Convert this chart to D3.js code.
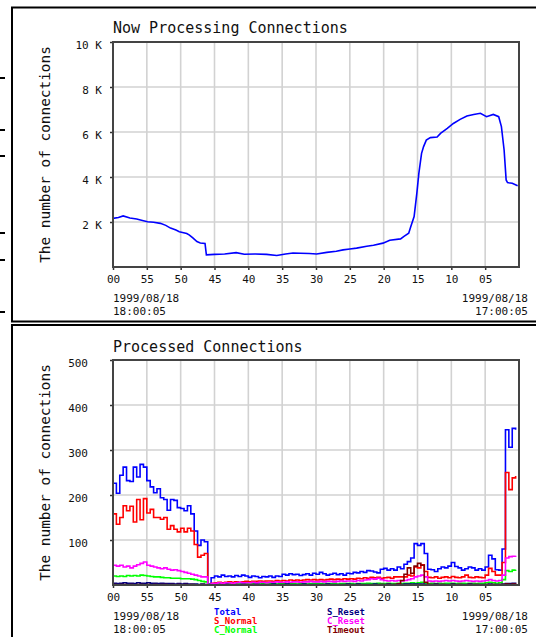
<!DOCTYPE html>
<html>
<head>
<meta charset="utf-8">
<script src="https://cdn.jsdelivr.net/npm/d3@7"></script>
<style>
  body { margin: 0; background: #fff; }
  svg { display: block; }
</style>
</head>
<body>
<svg id="chart" width="536" height="637"></svg>
<script>
// ---- Now processing connections: sample minutes before 18:00:05 and counts ----
const nowMinutes = [0, 0.8, 1.5, 2.5, 3.5, 4.2, 5.1, 6.0, 7.0, 7.8, 8.5, 9.3, 9.8, 10.9, 11.3, 11.8,
  12.4, 12.9, 13.6, 13.8, 15.0, 16.5, 18.2, 19.4, 21.0, 22.7, 24.2, 25.5, 26.6, 27.7, 29.0, 30.1,
  31.6, 33.0, 34.0, 35.0, 36.0, 37.5, 38.5, 39.9, 40.9, 42.5, 43.0, 43.7, 44.0, 44.5, 44.9, 45.2,
  45.6, 45.9, 46.3, 46.9, 47.9, 48.4, 49.4, 50.3, 51.3, 52.3, 53.3, 54.3, 55.2, 56.2, 57.0, 57.4,
  57.8, 58.1, 58.3, 59.0, 59.8];
const nowConnections = [2160, 2200, 2270, 2180, 2130, 2080, 2010, 1990, 1940, 1850, 1730, 1640, 1570, 1490, 1420, 1290,
  1130, 1070, 1050, 540, 560, 580, 640, 570, 580, 560, 510, 580, 620, 610, 600, 580,
  650, 700, 760, 800, 840, 920, 970, 1060, 1190, 1250, 1360, 1500, 1790, 2240, 3270, 4160,
  5050, 5350, 5640, 5750, 5780, 5940, 6160, 6380, 6560, 6710, 6780, 6830, 6680, 6780, 6680, 6240,
  5200, 3870, 3750, 3720, 3610];

// ---- Processed connections: one sample every 30 s, minutes before 18:00:05 ----
const sampleMinutes = d3.range(0, 60, 0.5);
const total = [226, 204, 244, 262, 232, 230, 262, 240, 268, 262,
  232, 218, 205, 214, 194, 190, 166, 190, 188, 172,
  170, 165, 176, 158, 120, 88, 100, 96, 2, 16,
  20, 18, 22, 19, 20, 18, 21, 19, 22, 20,
  17, 20, 19, 16, 19, 18, 20, 17, 20, 19,
  24, 22, 25, 23, 24, 21, 23, 25, 22, 26,
  24, 28, 25, 22, 24, 26, 23, 25, 22, 26,
  25, 28, 27, 30, 28, 32, 31, 29, 27, 35,
  37, 33, 36, 33, 40, 36, 46, 52, 60, 92,
  88, 92, 70, 35, 34, 30, 36, 40, 38, 42,
  50, 41, 38, 33, 36, 40, 38, 33, 36, 33,
  40, 66, 58, 34, 33, 80, 345, 306, 348, 345];
const sNormal = [158, 135, 150, 176, 165, 175, 140, 190, 145, 192,
  160, 168, 150, 150, 146, 150, 124, 132, 124, 118,
  126, 118, 126, 120, 90, 62, 66, 70, 0, 4,
  5, 6, 5, 6, 7, 6, 7, 6, 7, 8,
  7, 8, 8, 9, 8, 9, 9, 8, 10, 9,
  10, 9, 11, 10, 11, 10, 11, 12, 11, 12,
  11, 12, 11, 12, 13, 12, 13, 12, 14, 13,
  14, 13, 15, 14, 16, 15, 17, 16, 17, 15,
  16, 17, 15, 18, 18, 18, 18, 22, 20, 40,
  38, 45, 30, 17, 16, 18, 15, 17, 18, 16,
  19, 17, 16, 18, 22, 17, 16, 18, 17, 16,
  22, 37, 30, 22, 22, 50, 250, 212, 238, 242];
const cNormal = [20, 19, 20, 19, 21, 20, 21, 20, 22, 21,
  20, 19, 18, 18, 17, 16, 16, 15, 15, 15,
  14, 14, 14, 13, 12, 10, 8, 7, 0, 2,
  2, 3, 2, 2, 3, 2, 3, 2, 2, 3,
  2, 3, 3, 2, 3, 2, 3, 3, 2, 3,
  3, 2, 3, 3, 2, 3, 3, 2, 3, 3,
  3, 3, 2, 3, 3, 3, 2, 3, 3, 3,
  3, 2, 3, 3, 3, 4, 3, 3, 4, 3,
  3, 4, 3, 3, 4, 3, 4, 4, 5, 4,
  5, 6, 4, 3, 4, 3, 4, 3, 4, 4,
  4, 3, 4, 4, 3, 4, 4, 3, 4, 4,
  5, 6, 5, 4, 5, 12, 32, 30, 33, 34];
const sReset = [4, 3, 4, 5, 4, 4, 3, 5, 4, 4,
  5, 4, 4, 3, 4, 3, 3, 3, 2, 3,
  2, 3, 2, 2, 2, 1, 2, 1, 0, 1,
  1, 1, 1, 2, 1, 1, 1, 1, 2, 1,
  1, 1, 2, 1, 1, 1, 1, 2, 1, 1,
  1, 2, 1, 1, 1, 1, 2, 1, 1, 1,
  1, 1, 1, 2, 1, 1, 1, 1, 1, 2,
  1, 1, 2, 1, 1, 1, 1, 2, 1, 1,
  1, 2, 1, 1, 2, 1, 2, 2, 2, 2,
  2, 2, 1, 1, 1, 2, 1, 1, 1, 1,
  2, 1, 1, 1, 1, 2, 1, 1, 1, 1,
  1, 2, 1, 1, 1, 2, 3, 3, 4, 3];
const cReset = [44, 42, 44, 40, 42, 38, 42, 45, 48, 51,
  44, 42, 40, 38, 36, 38, 35, 33, 34, 32,
  30, 28, 26, 24, 22, 20, 18, 18, 0, 3,
  4, 5, 4, 5, 5, 4, 5, 6, 5, 5,
  5, 6, 5, 6, 6, 5, 6, 6, 7, 6,
  6, 7, 6, 7, 7, 6, 7, 7, 8, 7,
  7, 8, 7, 8, 8, 7, 8, 9, 8, 9,
  9, 8, 10, 9, 11, 12, 14, 13, 15, 12,
  10, 9, 10, 9, 10, 9, 10, 12, 14, 18,
  20, 22, 18, 9, 8, 9, 8, 9, 10, 9,
  10, 9, 8, 9, 10, 9, 8, 9, 8, 9,
  10, 12, 10, 9, 10, 22, 60, 63, 64, 65];
const timeout = [1, 0, 1, 1, 0, 1, 0, 1, 1, 0,
  1, 0, 1, 0, 1, 1, 0, 1, 0, 1,
  0, 1, 0, 1, 0, 0, 1, 0, 0, 0,
  0, 0, 0, 0, 0, 0, 0, 0, 0, 0,
  0, 0, 0, 0, 0, 0, 0, 0, 0, 0,
  0, 0, 0, 0, 0, 0, 0, 0, 0, 0,
  0, 0, 0, 0, 0, 0, 0, 0, 0, 0,
  0, 0, 0, 0, 0, 0, 0, 0, 0, 1,
  0, 1, 0, 1, 2, 10, 24, 38, 26, 42,
  48, 44, 6, 1, 0, 1, 0, 1, 0, 0,
  1, 0, 1, 0, 0, 1, 0, 1, 0, 0,
  1, 0, 1, 0, 1, 1, 2, 1, 2, 1];

const seriesNames = ["Total", "S_Normal", "C_Normal", "S_Reset", "C_Reset", "Timeout"];
const seriesValues = [total, sNormal, cNormal, sReset, cReset, timeout];
const seriesColors = ["#0000ff", "#ff0000", "#00ff00", "#000080", "#ff00ff", "#800000"];

// axis labels
const nowTicks = [2000, 4000, 6000, 8000, 10000];
const processedTicks = [100, 200, 300, 400, 500];
const minuteTicks = d3.range(0, 60, 5);
const startDate = "1999/08/18", startTime = "18:00:05";
const endDate = "1999/08/18", endTime = "17:00:05";

// ---------------------------------------------------------------------------
const svg = d3.select("#chart");
const MONO = "'DejaVu Sans Mono', 'Liberation Mono', monospace";
const plotLeft = 113, plotRight = 519;

// panel frames
svg.append("path")
  .attr("d", "M536,7.5H12V321.5H536 M536,325H12V637")
  .attr("fill", "none").attr("stroke", "#000").attr("stroke-width", 2);

// small marks along the left page edge
[78, 130, 156, 233, 260, 312].forEach(y => {
  svg.append("line").attr("x1", 0).attr("x2", 5).attr("y1", y).attr("y2", y)
    .attr("stroke", "#000").attr("stroke-width", 2);
});

const x = d3.scaleLinear().domain([0, 60]).range([plotLeft, plotRight]);
const minuteLabel = t => String((60 - t) % 60).padStart(2, "0");

function drawPanel(o) {
  const g = svg.append("g");
  const y = o.y;
  const top = y.range()[1], bottom = y.range()[0];

  // grid
  g.selectAll(".vgrid").data(minuteTicks.filter(t => t > 0)).join("line")
    .attr("x1", d => x(d)).attr("x2", d => x(d))
    .attr("y1", top).attr("y2", bottom)
    .attr("stroke", "#d2d2d2").attr("stroke-width", 1.6);
  g.selectAll(".hgrid").data(o.ticks.filter(v => v < y.domain()[1])).join("line")
    .attr("x1", plotLeft).attr("x2", plotRight)
    .attr("y1", d => y(d)).attr("y2", d => y(d))
    .attr("stroke", "#d2d2d2").attr("stroke-width", 1.6);

  // y axis
  const ya = g.append("g").attr("transform", `translate(${plotLeft},0)`)
    .call(d3.axisLeft(y).tickValues(o.ticks).tickSize(3).tickPadding(o.labelPad).tickFormat(o.format));
  ya.select(".domain").remove();
  ya.selectAll("line").attr("stroke", "#333").attr("stroke-width", 1.5);
  ya.selectAll("text").attr("font-family", MONO).attr("font-size", 11).attr("fill", "#111").attr("dy", "0.62em");

  // x axis
  const xa = g.append("g").attr("transform", `translate(0,${bottom})`)
    .call(d3.axisBottom(x).tickValues(minuteTicks).tickSize(3).tickFormat(minuteLabel));
  xa.select(".domain").remove();
  xa.selectAll("line").attr("stroke", "#333").attr("stroke-width", 1.5);
  xa.selectAll("text").attr("font-family", MONO).attr("font-size", 11).attr("fill", "#111")
    .attr("y", 8.5).attr("dy", "0.71em");

  // data
  const clip = "clip" + o.id;
  g.append("clipPath").attr("id", clip).append("rect")
    .attr("x", plotLeft).attr("y", top - 2).attr("width", plotRight - plotLeft).attr("height", bottom - top + 2);
  const lines = g.append("g").attr("clip-path", `url(#${clip})`);
  o.series.forEach(s => {
    const line = d3.line().x((d, i) => x(s.t[i])).y(d => y(d)).curve(s.curve);
    lines.append("path").datum(s.v).attr("d", line)
      .attr("fill", "none").attr("stroke", s.color).attr("stroke-width", 1.6)
      .attr("stroke-linejoin", "miter");
  });

  // frame
  g.append("rect").attr("x", plotLeft).attr("y", top)
    .attr("width", plotRight - plotLeft).attr("height", bottom - top)
    .attr("fill", "none").attr("stroke", "#444").attr("stroke-width", 2);

  // title and axis name
  g.append("text").attr("x", plotLeft).attr("y", o.titleY).text(o.title)
    .attr("font-family", MONO).attr("font-size", 15).attr("fill", "#111");
  g.append("text").attr("transform", `translate(50,${(top + bottom) / 2}) rotate(-90)`)
    .attr("text-anchor", "middle").text("The number of connections")
    .attr("font-family", MONO).attr("font-size", 14.4).attr("fill", "#111");

  // time span labels
  const span = [[plotLeft, "start", startDate, startTime], [528, "end", endDate, endTime]];
  span.forEach(([px, anchor, d, t]) => {
    g.append("text").attr("x", px).attr("y", bottom + 35).attr("text-anchor", anchor).text(d)
      .attr("font-family", MONO).attr("font-size", 11).attr("fill", "#111");
    g.append("text").attr("x", px).attr("y", bottom + 48).attr("text-anchor", anchor).text(t)
      .attr("font-family", MONO).attr("font-size", 11).attr("fill", "#111");
  });
  return g;
}

// Now Processing Connections
drawPanel({
  id: "now",
  y: d3.scaleLinear().domain([0, 10000]).range([267, 42]),
  ticks: nowTicks,
  format: v => (v / 1000) + " K",
  labelPad: 8,
  title: "Now Processing Connections",
  titleY: 33,
  series: [{ t: nowMinutes, v: nowConnections, color: "#0000ff", curve: d3.curveLinear }]
});

// Processed Connections
const processed = drawPanel({
  id: "processed",
  y: d3.scaleLinear().domain([0, 500]).range([585, 360]),
  ticks: processedTicks,
  format: d3.format("d"),
  labelPad: 22,
  title: "Processed Connections",
  titleY: 352,
  series: seriesValues.map((v, i) => ({ t: sampleMinutes, v, color: seriesColors[i], curve: d3.curveStepAfter }))
});

// legend, two columns of three
seriesNames.forEach((name, i) => {
  const col = Math.floor(i / 3), row = i % 3;
  processed.append("text")
    .attr("x", col === 0 ? 214 : 327).attr("y", 615 + row * 9)
    .text(name).attr("fill", seriesColors[i])
    .attr("font-family", MONO).attr("font-size", 9).attr("font-weight", "bold");
});
</script>
</body>
</html>
